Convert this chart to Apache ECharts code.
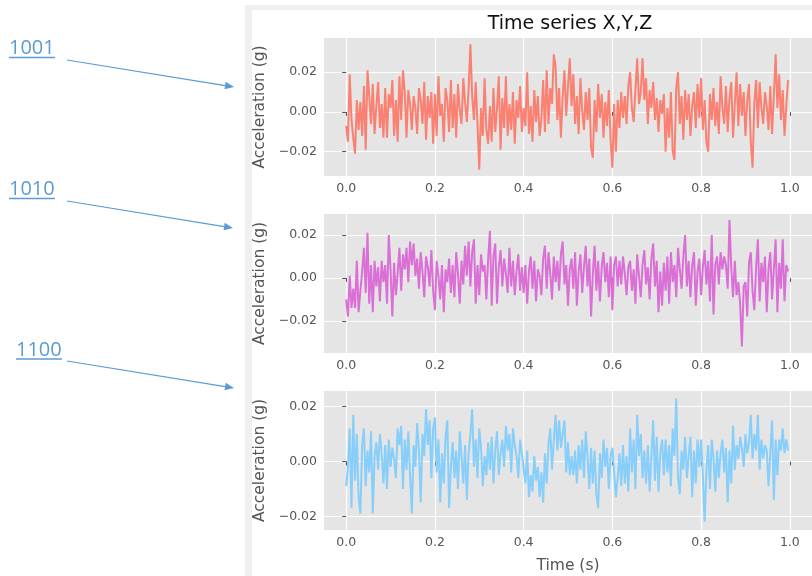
<!DOCTYPE html>
<html><head><meta charset="utf-8">
<script src="https://cdn.jsdelivr.net/npm/echarts@6/dist/echarts.min.js"></script>
<style>html,body{margin:0;padding:0;background:#fff}#c{width:812px;height:576px}</style>
</head><body><div id="c"></div>
<script>
// Acceleration (g), one value every 0.004 s
const seriesX = [
 -0.007,-0.015,0.019,-0.004,-0.013,-0.021,0.006,-0.009,0.005,-0.012,
 0.013,-0.019,0.021,0.008,-0.006,0.014,-0.011,0.003,0.015,-0.008,
 0.004,-0.013,0.012,-0.013,0.009,0.002,0.016,-0.012,0.006,-0.015,
 0.018,-0.004,0.021,0.010,-0.013,0.011,0.004,-0.009,0.008,0.002,
 -0.011,0.012,0.006,-0.006,0.015,-0.014,0.008,-0.003,0.010,-0.016,
 0.009,-0.012,0.018,-0.002,0.004,-0.015,0.012,0.006,-0.010,0.016,
 -0.008,0.009,-0.013,0.014,0.001,-0.006,0.017,0.005,-0.005,0.012,
 0.034,0.008,-0.004,0.015,-0.006,-0.029,0.002,-0.012,0.017,-0.009,
 -0.016,0.003,-0.015,0.012,-0.010,0.002,0.018,-0.019,0.007,-0.008,
 0.018,-0.012,0.004,-0.009,0.010,-0.016,0.006,-0.003,0.013,-0.010,
 0.002,-0.007,0.020,-0.011,0.003,-0.015,0.011,-0.005,0.008,-0.012,
 -0.004,0.016,-0.010,0.021,-0.006,0.012,0.004,0.029,0.023,-0.004,
 0.012,-0.013,0.008,0.021,-0.002,0.013,0.027,0.003,0.019,-0.006,
 0.008,-0.011,0.017,0.001,-0.009,0.010,-0.004,0.012,-0.018,-0.023,
 0.006,-0.010,0.014,-0.003,0.009,-0.013,0.005,-0.007,0.011,-0.014,
 -0.028,0.004,-0.020,0.006,-0.008,0.010,-0.003,0.008,-0.006,0.013,
 0.020,0.002,-0.005,0.011,0.027,0.004,0.010,0.027,0.006,0.017,
 -0.006,0.011,0.002,0.015,-0.004,0.007,-0.010,0.006,-0.001,0.009,
 -0.020,0.002,-0.013,0.010,-0.020,-0.024,0.012,0.020,-0.006,0.008,
 -0.014,0.011,-0.004,0.009,-0.012,0.003,0.010,-0.008,0.014,-0.003,
 0.017,-0.009,0.006,-0.015,-0.020,0.009,-0.004,0.012,-0.007,0.005,
 -0.011,0.018,0.002,-0.006,0.013,-0.010,0.007,0.015,-0.013,0.004,
 0.020,-0.007,0.014,-0.002,0.010,-0.012,0.006,0.014,-0.015,-0.028,
 0.005,0.016,-0.008,0.015,0.002,-0.006,0.010,0.003,-0.009,0.013,
 -0.011,0.008,0.029,0.002,0.019,-0.004,0.011,-0.012,0.003,0.016
];
const seriesY = [
 -0.010,-0.018,0.001,-0.014,-0.005,-0.014,0.008,-0.016,-0.006,0.003,
 0.014,-0.007,0.021,-0.012,0.006,-0.016,0.008,-0.004,0.005,-0.011,
 0.008,-0.002,0.006,-0.012,0.020,0.004,-0.018,0.007,-0.008,0.002,
 0.014,-0.006,0.011,0.004,0.014,-0.002,0.017,0.006,0.016,0.001,
 0.009,-0.005,0.012,0.003,-0.009,0.010,0.005,-0.004,0.013,-0.006,
 -0.015,0.008,0.001,-0.010,0.006,-0.016,0.004,-0.002,0.009,-0.007,
 0.006,-0.009,0.012,0.002,-0.012,0.008,-0.003,0.015,0.001,0.017,
 -0.004,0.012,0.018,-0.012,0.006,-0.008,0.011,0.003,0.006,-0.010,
 0.009,0.022,-0.013,0.010,0.016,-0.012,0.005,0.013,-0.004,0.009,
 0.002,-0.007,0.014,-0.004,0.008,-0.008,0.003,0.011,-0.006,0.005,
 -0.007,0.006,-0.012,0.003,0.010,-0.005,0.008,-0.011,0.004,0.001,
 -0.008,0.009,0.015,-0.005,0.012,0.002,-0.010,0.010,-0.002,0.008,
 -0.006,0.011,0.017,-0.003,0.006,-0.013,0.004,0.009,-0.005,0.012,
 -0.013,0.003,0.011,-0.007,0.005,0.015,-0.004,0.009,-0.018,0.002,
 0.015,-0.006,0.008,-0.011,0.005,0.012,-0.002,0.007,-0.009,0.010,
 -0.015,0.006,0.010,-0.004,0.008,-0.003,0.010,0.002,-0.008,0.005,
 0.008,-0.006,0.004,-0.012,0.011,0.001,-0.009,0.006,0.013,-0.003,
 0.005,-0.010,0.009,0.016,-0.004,0.008,-0.016,0.003,-0.013,0.007,
 -0.006,0.010,-0.012,0.012,-0.002,0.006,-0.009,0.014,0.004,-0.005,
 0.010,0.020,-0.004,0.008,-0.009,0.006,0.012,-0.013,0.003,0.009,
 -0.008,0.005,0.013,-0.003,0.008,-0.011,0.020,-0.017,0.006,0.010,
 -0.003,0.012,0.004,0.010,0.006,-0.005,0.027,0.005,-0.009,0.008,
 -0.008,-0.002,-0.012,-0.032,-0.004,-0.002,-0.018,0.007,0.012,-0.006,
 -0.015,0.005,0.018,-0.011,0.007,-0.002,0.010,-0.016,0.004,0.012,
 -0.010,0.004,0.018,-0.016,0.007,-0.005,0.018,-0.011,0.006,0.003
];
const seriesZ = [
 -0.009,-0.002,0.012,-0.017,0.017,-0.007,0.010,-0.013,-0.019,0.006,
 0.012,-0.009,0.004,-0.004,0.011,-0.019,0.002,0.007,-0.003,0.010,
 0.003,-0.008,0.006,-0.010,0.008,-0.002,0.005,0.001,-0.006,0.012,
 0.006,0.013,-0.010,0.008,-0.003,0.011,-0.005,-0.019,0.006,-0.002,
 0.014,0.004,-0.015,0.010,0.002,0.019,0.006,0.015,-0.006,0.012,
 0.016,-0.004,0.008,-0.015,0.003,-0.008,0.009,0.015,-0.017,-0.002,
 0.007,-0.006,0.004,-0.010,0.011,0.002,-0.008,0.006,-0.014,0.003,
 0.010,0.019,-0.002,0.008,-0.006,0.012,0.005,-0.009,0.002,-0.005,
 0.007,-0.003,0.009,-0.008,0.004,0.011,-0.005,0.003,0.008,-0.002,
 0.013,0.004,0.010,-0.004,0.012,0.006,0.002,-0.006,0.008,0.003,
 0.003,-0.008,0.004,-0.013,-0.005,-0.011,0.002,-0.007,-0.002,-0.013,
 -0.004,-0.015,0.003,-0.008,0.006,0.012,-0.003,0.008,0.017,0.004,
 0.015,0.005,0.010,0.015,-0.004,0.007,-0.005,0.002,-0.005,0.004,
 -0.008,0.006,-0.003,0.008,-0.006,0.011,0.002,-0.010,0.005,-0.008,
 0.004,-0.012,-0.017,0.003,-0.006,0.008,-0.002,0.005,-0.010,0.002,
 0.005,-0.004,-0.013,-0.006,0.003,-0.009,0.006,-0.008,0.002,-0.011,
 0.012,-0.004,0.008,-0.010,0.017,0.002,0.010,-0.006,0.004,-0.008,
 0.006,-0.011,0.002,0.015,-0.007,0.009,-0.011,0.003,0.008,-0.005,
 0.008,-0.004,0.006,-0.009,0.012,0.002,0.023,-0.006,-0.012,0.004,
 -0.003,0.009,-0.006,0.002,0.009,-0.013,0.004,-0.008,0.008,-0.002,
 0.008,-0.005,-0.022,-0.003,0.006,-0.010,0.008,0.001,-0.011,0.004,
 -0.006,0.003,0.008,-0.004,0.005,-0.015,0.004,-0.008,0.013,-0.003,
 0.006,0.001,0.009,0.005,-0.002,0.010,0.003,0.007,0.017,0.001,
 0.010,0.004,0.017,-0.003,0.008,0.001,0.006,0.004,-0.009,0.003,
 0.015,-0.014,0.008,-0.005,0.008,0.004,0.012,0.003,0.008,0.004
];
const sampleStep = 0.004;
const xTicks = [0, 0.2, 0.4, 0.6, 0.8, 1.0];
const yTicks = [-0.02, 0, 0.02];
const seriesColors = ['#FA8072', '#DA70D6', '#87CEFA'];
const yRanges = [[-0.0322, 0.0372], [-0.035, 0.0298], [-0.025, 0.0257]];
const annotationLabels = ['1001', '1010', '1100'];
const chartTitle = 'Time series X,Y,Z';
const yName = 'Acceleration (g)';
const xName = 'Time (s)';

const time = seriesX.map((_, i) => +(i * sampleStep).toFixed(3));
const allSeries = [seriesX, seriesY, seriesZ];

const FONT = 'DejaVu Sans';
const TICKC = '#555555';
const gridTops = [38, 214, 391];
const gridHeights = [138, 139, 139];

const grids = gridTops.map((t, k) => ({
  left: 324, right: 0, top: t, height: gridHeights[k],
  show: true, backgroundColor: '#E5E5E5', borderWidth: 0
}));
const fmtY = v => (Math.abs(v) < 1e-9 ? '0.00' : v.toFixed(2).replace('-', '\u2212'));
const xAxes = grids.map((g, k) => ({
  type: 'value', gridIndex: k, min: -0.05, max: 1.05,
  axisLine: { show: false },
  axisTick: { show: true, customValues: xTicks, length: 4, lineStyle: { color: TICKC } },
  axisLabel: { customValues: xTicks, formatter: v => v.toFixed(1), color: TICKC, fontFamily: FONT, fontSize: 12.5, margin: 6 },
  splitLine: { show: true, lineStyle: { color: '#ffffff', width: 1.2 } },
  name: k === 2 ? xName : '', nameLocation: 'middle', nameGap: 28,
  nameTextStyle: { color: TICKC, fontFamily: FONT, fontSize: 15.5 }
}));
const yAxes = grids.map((g, k) => ({
  type: 'value', gridIndex: k, min: yRanges[k][0], max: yRanges[k][1],
  axisLine: { show: false },
  axisTick: { show: true, customValues: yTicks, length: 4, lineStyle: { color: TICKC } },
  axisLabel: { customValues: yTicks, formatter: fmtY, color: TICKC, fontFamily: FONT, fontSize: 12.5, margin: 7 },
  splitLine: { show: true, lineStyle: { color: '#ffffff', width: 1.2 } },
  name: yName, nameLocation: 'middle', nameGap: 51,
  nameTextStyle: { color: TICKC, fontFamily: FONT, fontSize: 15.5 }
}));
const series = allSeries.map((vals, k) => ({
  type: 'line', xAxisIndex: k, yAxisIndex: k, showSymbol: false, symbol: 'none',
  data: vals.map((v, i) => [time[i], v]),
  lineStyle: { color: seriesColors[k], width: 2 }, itemStyle: { color: seriesColors[k] },
  animation: false
}));

const ANNC = '#5B9BD5';
function arrow(x1, y1, x2, y2) {
  const dx = x2 - x1, dy = y2 - y1, L = Math.hypot(dx, dy), ux = dx / L, uy = dy / L;
  const hl = 9, hw = 3.8, bx = x2 - ux * hl, by = y2 - uy * hl;
  return [
    { type: 'line', shape: { x1, y1, x2: bx, y2: by }, style: { stroke: ANNC, lineWidth: 1.2 } },
    { type: 'polygon', shape: { points: [[x2, y2], [bx - uy * hw, by + ux * hw], [bx + uy * hw, by - ux * hw]] }, style: { fill: ANNC } }
  ];
}
const annPos = [
  { tx: 9, ty: 48, ux2: 55, uy: 57.5, a: [67, 60, 234, 87] },
  { tx: 9, ty: 189, ux2: 55, uy: 198.5, a: [67, 201, 233, 228] },
  { tx: 16, ty: 350, ux2: 62, uy: 359, a: [67, 361, 234, 388] }
];
const graphics = [
  { type: 'rect', z: -10, shape: { x: 245, y: 5, width: 567, height: 571 }, style: { fill: '#F0F0F0' } },
  { type: 'rect', z: -9, shape: { x: 252, y: 10, width: 560, height: 566 }, style: { fill: '#FFFFFF' } }
];
annPos.forEach((p, k) => {
  graphics.push({ type: 'text', x: p.tx, y: p.ty, style: { text: annotationLabels[k], font: '20px "Open Sans"', fill: ANNC, align: 'left', verticalAlign: 'middle' } });
  graphics.push({ type: 'line', shape: { x1: p.tx, y1: p.uy, x2: p.ux2, y2: p.uy }, style: { stroke: ANNC, lineWidth: 1.5 } });
  arrow(...p.a).forEach(g => graphics.push(g));
});

const chart = echarts.init(document.getElementById('c'), null, { renderer: 'canvas' });
chart.setOption({
  backgroundColor: '#ffffff',
  animation: false,
  title: { text: chartTitle, left: 565, top: 10, textAlign: 'center',
    textStyle: { color: '#111111', fontFamily: FONT, fontSize: 19, fontWeight: 'normal' } },
  grid: grids, xAxis: xAxes, yAxis: yAxes, series: series,
  graphic: graphics
});
</script>
</body></html>
